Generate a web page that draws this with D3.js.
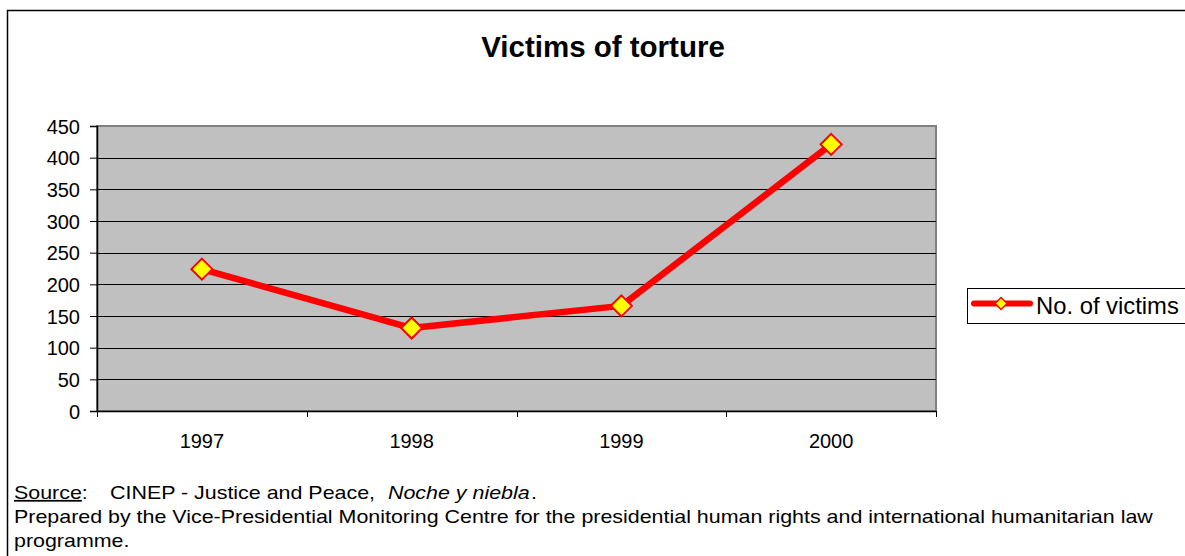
<!DOCTYPE html>
<html lang="en">
<head>
    <meta charset="UTF-8">
    <title>Victims of torture</title>
    <script src="https://cdnjs.cloudflare.com/ajax/libs/d3/7.4.4/d3.min.js"></script>
    <style>
        body {
            margin: 0;
            background: #fff;
        }
        svg text {
            font-family: "Liberation Sans", Arial, sans-serif;
            fill: #000;
        }
    </style>
</head>
<body>
    <svg id="chart" width="1185" height="556"></svg>

    <script>
        // Chart data
        const years = ["1997", "1998", "1999", "2000"];
        const victims = [224, 131, 166, 421];
        const yTicks = [0, 50, 100, 150, 200, 250, 300, 350, 400, 450];
        const seriesName = "No. of victims";

        const svg = d3.select("#chart");

        // plot area
        const plot = { left: 97, right: 936, top: 126, bottom: 411 };

        const x = d3.scaleBand()
            .domain(years)
            .range([plot.left, plot.right])
            .padding(0);

        const y = d3.scaleLinear()
            .domain([0, 450])
            .range([plot.bottom, plot.top]);

        // outer frame (only left and top edges show in the picture)
        svg.append("path")
            .attr("d", "M7.5,560 V10.5 H1190")
            .attr("fill", "none")
            .attr("stroke", "#000")
            .attr("stroke-width", 1.5);

        // title
        svg.append("text")
            .attr("x", 603)
            .attr("y", 57)
            .attr("text-anchor", "middle")
            .style("font-size", "29.5px")
            .style("font-weight", "bold")
            .text("Victims of torture");

        // plot background
        svg.append("rect")
            .attr("x", plot.left)
            .attr("y", plot.top)
            .attr("width", plot.right - plot.left)
            .attr("height", plot.bottom - plot.top)
            .attr("fill", "#c0c0c0")
            .attr("stroke", "#808080")
            .attr("stroke-width", 2);

        // gridlines
        svg.append("g")
            .selectAll("line")
            .data(yTicks.filter(d => d > 0 && d < 450))
            .enter()
            .append("line")
            .attr("x1", plot.left)
            .attr("x2", plot.right)
            .attr("y1", d => Math.round(y(d)) + 0.5)
            .attr("y2", d => Math.round(y(d)) + 0.5)
            .attr("stroke", "#000")
            .attr("stroke-width", 1);

        // y axis
        const yAxis = svg.append("g")
            .attr("transform", `translate(${plot.left},0)`)
            .call(d3.axisLeft(y).tickValues(yTicks).tickSize(7).tickPadding(10));
        yAxis.select(".domain").attr("stroke", "#000").attr("stroke-width", 1.5);
        yAxis.selectAll(".tick line").attr("stroke", "#000");
        yAxis.selectAll("text")
            .style("font-size", "20px")
            .attr("dy", "0.36em");

        // x axis: ticks sit on the category boundaries
        const xAxis = svg.append("g")
            .attr("transform", `translate(0,${plot.bottom})`)
            .call(d3.axisBottom(x).tickSize(0).tickPadding(23));
        xAxis.select(".domain").attr("stroke", "#000").attr("stroke-width", 1.5);
        xAxis.selectAll("text").style("font-size", "20px");

        const bounds = years.map(d => x(d)).concat([x(years[years.length - 1]) + x.bandwidth()]);
        svg.append("g")
            .selectAll("line")
            .data(bounds)
            .enter()
            .append("line")
            .attr("x1", d => Math.round(d) + 0.5)
            .attr("x2", d => Math.round(d) + 0.5)
            .attr("y1", plot.bottom)
            .attr("y2", plot.bottom + 6)
            .attr("stroke", "#000");

        // series line
        const line = d3.line()
            .x((d, i) => x(years[i]) + x.bandwidth() / 2)
            .y(d => y(d));

        svg.append("path")
            .datum(victims)
            .attr("d", line)
            .attr("fill", "none")
            .attr("stroke", "#ff0000")
            .attr("stroke-width", 6.5)
            .attr("stroke-linejoin", "round");

        const diamond = r => `M0,${-r} L${r},0 L0,${r} L${-r},0 Z`;

        svg.append("g")
            .selectAll("path")
            .data(victims)
            .enter()
            .append("path")
            .attr("transform", (d, i) => `translate(${x(years[i]) + x.bandwidth() / 2},${y(d)})`)
            .attr("d", diamond(10.5))
            .attr("fill", "#ffff00")
            .attr("stroke", "#ff0000")
            .attr("stroke-width", 2);

        // legend
        const legend = svg.append("g");
        legend.append("rect")
            .attr("x", 967.5)
            .attr("y", 288.5)
            .attr("width", 240)
            .attr("height", 35)
            .attr("fill", "#fff")
            .attr("stroke", "#000")
            .attr("stroke-width", 1);
        legend.append("line")
            .attr("x1", 974)
            .attr("x2", 1030)
            .attr("y1", 303.5)
            .attr("y2", 303.5)
            .attr("stroke", "#ff0000")
            .attr("stroke-width", 6)
            .attr("stroke-linecap", "round");
        legend.append("path")
            .attr("transform", "translate(1001,303.5)")
            .attr("d", diamond(6))
            .attr("fill", "#ffff00")
            .attr("stroke", "#ff0000")
            .attr("stroke-width", 1.5);
        legend.append("text")
            .attr("x", 1036)
            .attr("y", 314)
            .style("font-size", "23.8px")
            .text(seriesName);

        // source notes: the original type is a bit wider than the font, so stretch it
        const noteStretch = 1.225;
        function note(xs, ys) {
            return svg.append("text")
                .attr("transform", `translate(${xs},${ys}) scale(${noteStretch},1)`)
                .style("font-size", "17.5px");
        }
        const src = note(14, 499);
        src.append("tspan").style("text-decoration", "underline").text("Source");
        src.append("tspan").text(":");
        note(110, 499).text("CINEP - Justice and Peace,");
        note(388, 499).style("font-style", "italic").text("Noche y niebla");
        note(531, 499).text(".");
        note(14, 523).text("Prepared by the Vice-Presidential Monitoring Centre for the presidential human rights and international humanitarian law");
        note(14, 547).text("programme.");
    </script>
</body>
</html>
